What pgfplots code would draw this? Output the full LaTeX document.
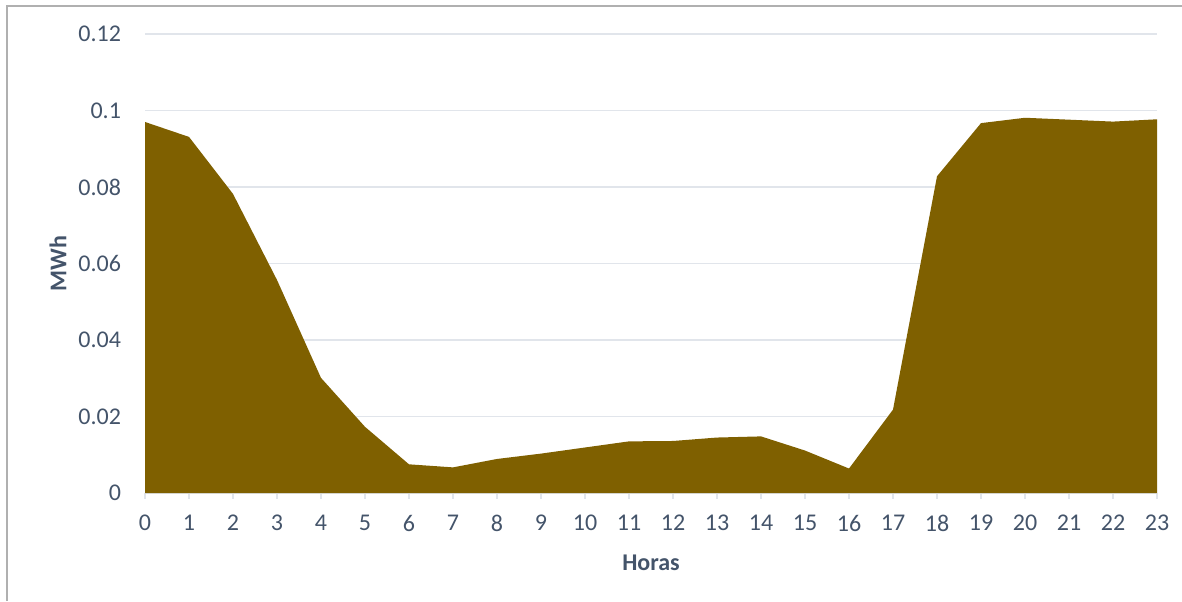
\documentclass[border=0pt]{standalone}
\usepackage{pgfplots}
\pgfplotsset{compat=1.18}
\usepackage{fontspec}
\setmainfont{Carlito}
\definecolor{areafill}{HTML}{7F6000}
\definecolor{txt}{HTML}{44546A}
\definecolor{gridc}{HTML}{E1E5EB}
\definecolor{framec}{HTML}{B0B0B0}
\begin{document}
\begin{tikzpicture}
\path[use as bounding box] (0,0) rectangle (591pt,300.5pt);
\draw[framec, line width=1pt] (3.5pt,0) -- (3.5pt,297.5pt) -- (591pt,297.5pt);
\begin{axis}[
  at={(72.5pt,54pt)}, anchor=south west,
  scale only axis, width=506pt, height=229.5pt,
  xmin=0, xmax=23, ymin=0, ymax=0.12,
  xtick={0,1,...,23},
  ytick={0,0.02,0.04,0.06,0.08,0.1,0.12},
  yticklabels={0,0.02,0.04,0.06,0.08,0.1,0.12},
  ymajorgrids, major grid style={gridc, line width=0.8pt},
  axis y line*=left, y axis line style={draw=none},
  axis x line*=bottom, x axis line style={gridc, line width=1pt},
  x tick style={gridc, line width=0.8pt}, xtick align=outside, major tick length=3pt,
  y tick style={draw=none},
  tick label style={font=\fontsize{12}{14}\selectfont, text=txt},
  /pgf/number format/assume math mode=true,
  x tick label style={yshift=-4.5pt},
  y tick label style={xshift=-8.5pt},
  xlabel={\textbf{Horas}}, ylabel={\textbf{MWh}},
  every axis x label/.style={at={(axis description cs:0.5,0)}, anchor=center, yshift=-35pt, font=\fontsize{12}{14}\selectfont, text=txt},
  every axis y label/.style={at={(axis description cs:0,0.5)}, anchor=center, xshift=-43.5pt, rotate=90, font=\fontsize{12}{14}\selectfont, text=txt},
  clip=false,
]
\addplot[fill=areafill, draw=none] coordinates {
(0,0.0970) (1,0.0931) (2,0.0782) (3,0.0557) (4,0.0301) (5,0.0173)
(6,0.0075) (7,0.0067) (8,0.0089) (9,0.0103) (10,0.0119) (11,0.0135)
(12,0.0136) (13,0.0145) (14,0.0148) (15,0.0111) (16,0.0064) (17,0.0218)
(18,0.0828) (19,0.0967) (20,0.0981) (21,0.0976) (22,0.0971) (23,0.0977)
} \closedcycle;
\end{axis}
\end{tikzpicture}
\end{document}
